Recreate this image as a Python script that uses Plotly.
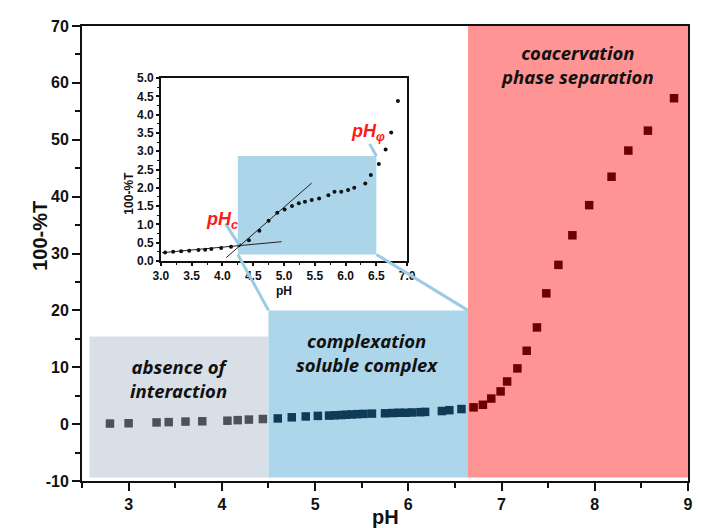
import plotly.graph_objects as go

# ---------------- data ----------------
ph_main = [2.80, 3.00, 3.30, 3.43, 3.61, 3.79, 4.06, 4.17, 4.29, 4.44, 4.60, 4.75, 4.90, 5.03,
           5.15, 5.21, 5.28, 5.33, 5.39, 5.45, 5.52, 5.61, 5.75, 5.83, 5.90, 5.97, 6.04, 6.13,
           6.18, 6.36, 6.44, 6.57, 6.70, 6.80, 6.89, 6.99, 7.06, 7.17, 7.27, 7.38, 7.48, 7.61,
           7.76, 7.94, 8.18, 8.36, 8.57, 8.85]
t_main = [0.1, 0.15, 0.3, 0.35, 0.45, 0.5, 0.6, 0.7, 0.8, 0.9, 1.0, 1.2, 1.35, 1.45,
          1.5, 1.55, 1.6, 1.65, 1.7, 1.75, 1.8, 1.85, 1.9, 1.95, 2.0, 2.0, 2.05, 2.1,
          2.15, 2.3, 2.45, 2.65, 2.95, 3.4, 4.5, 5.75, 7.5, 9.8, 12.9, 17.0, 23.0, 28.0,
          33.2, 38.5, 43.5, 48.1, 51.6, 57.3]

ph_inset = [3.07, 3.20, 3.33, 3.46, 3.61, 3.72, 3.82, 3.98, 4.14, 4.27, 4.43, 4.60, 4.75, 4.89,
            5.01, 5.13, 5.24, 5.34, 5.45, 5.57, 5.72, 5.82, 5.93, 6.04, 6.14, 6.32, 6.41,
            6.54, 6.65, 6.74, 6.85]
t_inset = [0.23, 0.25, 0.27, 0.28, 0.30, 0.31, 0.33, 0.355, 0.39, 0.44, 0.57, 0.83, 1.10, 1.32,
           1.41, 1.50, 1.58, 1.62, 1.67, 1.71, 1.80, 1.89, 1.89, 1.94, 2.00, 2.12, 2.35,
           2.65, 3.05, 3.51, 4.37]

# tangent lines in the inset
tan1_x = [3.02, 4.96]
tan1_y = [0.227, 0.527]
tan2_x = [4.06, 5.45]
tan2_y = [0.09, 2.13]

# regions (pH limits, top value)
regions = [
    dict(x0=2.58, x1=4.5, top=15.4, color="#d9dfe6", mark="#4b525b",
         label="absence of<br>interaction", lx=3.54, ly=8.1),
    dict(x0=4.5, x1=6.64, top=20.0, color="#aed6ea", mark="#0f3b57",
         label="complexation<br>soluble complex", lx=5.56, ly=12.6),
    dict(x0=6.64, x1=9.0, top=70.0, color="#ff9494", mark="#6e0000",
         label="coacervation<br>phase separation", lx=7.82, ly=63.2),
]
band_bottom = -9.4

x_ticks = [3, 4, 5, 6, 7, 8, 9]
y_ticks = [-10, 0, 10, 20, 30, 40, 50, 60, 70]

# ---------------- layout geometry ----------------
W, H = 702, 528
XR = [2.5, 9.0]
YR = [-10, 70]
XR2 = [3.0, 7.0]
YR2 = [0.0, 5.0]
XD2 = [0.1301, 0.5366]
YD2 = [0.4835, 0.8857]
inset_rect = dict(x0=4.25, x1=6.5, y0=0.18, y1=2.87)


def main_paper(x, y):
    return ((x - XR[0]) / (XR[1] - XR[0]), (y - YR[0]) / (YR[1] - YR[0]))


def inset_paper(x, y):
    return (XD2[0] + (x - XR2[0]) / (XR2[1] - XR2[0]) * (XD2[1] - XD2[0]),
            YD2[0] + (y - YR2[0]) / (YR2[1] - YR2[0]) * (YD2[1] - YD2[0]))


fig = go.Figure()

# main points, coloured by region
for i, r in enumerate(regions):
    lo = r["x0"] if i > 0 else -1e9
    xs, ys = [], []
    for x, y in zip(ph_main, t_main):
        if lo <= x < r["x1"]:
            xs.append(x)
            ys.append(y)
    fig.add_trace(go.Scatter(x=xs, y=ys, mode="markers", xaxis="x", yaxis="y",
                             marker=dict(symbol="square", size=8.5, color=r["mark"]),
                             showlegend=False, hoverinfo="skip"))

# inset points and tangent lines
fig.add_trace(go.Scatter(x=tan1_x, y=tan1_y, mode="lines", xaxis="x2", yaxis="y2",
                         line=dict(color="#222", width=1), showlegend=False))
fig.add_trace(go.Scatter(x=tan2_x, y=tan2_y, mode="lines", xaxis="x2", yaxis="y2",
                         line=dict(color="#222", width=1), showlegend=False))
fig.add_trace(go.Scatter(x=ph_inset, y=t_inset, mode="markers", xaxis="x2", yaxis="y2",
                         marker=dict(symbol="circle", size=4, color="#111"),
                         showlegend=False))

shapes = []
for r in regions:
    shapes.append(dict(type="rect", xref="x", yref="y", x0=r["x0"], x1=r["x1"],
                       y0=band_bottom, y1=r["top"], fillcolor=r["color"],
                       line=dict(width=0), layer="below"))
shapes.append(dict(type="rect", xref="x2", yref="y2", layer="below",
                   fillcolor="#acd5ea", line=dict(width=0), **inset_rect))

blue_line = dict(color="#9ccbe6", width=3)
callouts = [
    (inset_paper(inset_rect["x0"], inset_rect["y0"]), main_paper(regions[1]["x0"], regions[1]["top"])),
    (inset_paper(inset_rect["x1"], inset_rect["y0"]), main_paper(regions[1]["x1"], regions[1]["top"])),
    (inset_paper(4.05, 1.02), inset_paper(4.27, 0.44)),
    (inset_paper(6.39, 3.2), inset_paper(inset_rect["x1"], inset_rect["y1"])),
]
for (a, b) in callouts:
    shapes.append(dict(type="line", xref="paper", yref="paper", x0=a[0], y0=a[1],
                       x1=b[0], y1=b[1], line=blue_line, layer="above"))

annotations = []
for r in regions:
    annotations.append(dict(x=r["lx"], y=r["ly"], xref="x", yref="y",
                            text="<b><i>" + r["label"] + "</i></b>",
                            showarrow=False, align="center",
                            font=dict(family="Noto Sans", size=18.5, color="#111")))
annotations.append(dict(x=3.99, y=1.12, xref="x2", yref="y2", text="<b><i>pH<sub>c</sub></i></b>",
                        showarrow=False,
                        font=dict(family="Liberation Sans", size=18, color="#ff1a1a")))
annotations.append(dict(x=6.36, y=3.5, xref="x2", yref="y2", text="<b><i>pH<sub>φ</sub></i></b>",
                        showarrow=False,
                        font=dict(family="Liberation Sans", size=18, color="#ff1a1a")))
# axis titles
annotations.append(dict(x=-0.09, y=0.54, xref="paper", yref="paper", text="<b>100-%T</b>",
                        textangle=-90, showarrow=False,
                        font=dict(family="Liberation Sans", size=20, color="#111")))
annotations.append(dict(x=0.5, y=-0.079, xref="paper", yref="paper", text="<b>pH</b>",
                        showarrow=False, yanchor="middle",
                        font=dict(family="Liberation Sans", size=20, color="#111")))
annotations.append(dict(x=XD2[0] - 0.068, y=(YD2[0] + YD2[1]) / 2, xref="paper", yref="paper",
                        text="<b>100-%T</b>", textangle=-90, showarrow=False,
                        font=dict(family="Liberation Sans", size=12, color="#111")))
annotations.append(dict(x=(XD2[0] + XD2[1]) / 2, y=YD2[0] - 0.066, xref="paper", yref="paper",
                        text="<b>pH</b>", showarrow=False, yanchor="middle",
                        font=dict(family="Liberation Sans", size=12, color="#111")))

axis_common = dict(showgrid=False, zeroline=False, showline=True, linecolor="#111",
                   ticks="outside", tickcolor="#111", mirror=True)

fig.update_layout(
    width=W, height=H,
    margin=dict(l=82, r=5, t=26, b=47),
    paper_bgcolor="white", plot_bgcolor="white",
    showlegend=False,
    shapes=shapes, annotations=annotations,
    xaxis=dict(range=XR, domain=[0, 1], anchor="y", tickvals=x_ticks,
               ticktext=["<b>%d</b>" % v for v in x_ticks],
               ticklen=8, tickwidth=2, linewidth=2,
               minor=dict(dtick=0.5, tick0=0, ticks="outside", ticklen=5, tickwidth=2, tickcolor="#111"),
               tickfont=dict(family="Liberation Sans", size=16, color="#111"),
               **axis_common),
    yaxis=dict(range=YR, domain=[0, 1], anchor="x", tickvals=y_ticks,
               ticktext=["<b>%d</b>" % v for v in y_ticks],
               ticklen=8, tickwidth=2, linewidth=2,
               minor=dict(dtick=5, tick0=0, ticks="outside", ticklen=5, tickwidth=2, tickcolor="#111"),
               tickfont=dict(family="Liberation Sans", size=16, color="#111"),
               **axis_common),
    xaxis2=dict(range=XR2, domain=XD2, anchor="y2", dtick=0.5, tick0=0, tickformat=".1f",
                ticklen=3, tickwidth=1.5, linewidth=1.5,
                minor=dict(dtick=0.25, ticks="outside", ticklen=2, tickwidth=1, tickcolor="#111"),
                tickfont=dict(family="Liberation Sans", size=12, color="#111", weight="bold"),
                **axis_common),
    yaxis2=dict(range=YR2, domain=YD2, anchor="x2", dtick=0.5, tick0=0, tickformat=".1f",
                ticklen=3, tickwidth=1.5, linewidth=1.5,
                minor=dict(dtick=0.25, ticks="outside", ticklen=2, tickwidth=1, tickcolor="#111"),
                tickfont=dict(family="Liberation Sans", size=12, color="#111", weight="bold"),
                **axis_common),
)

fig.write_html("out.html")
